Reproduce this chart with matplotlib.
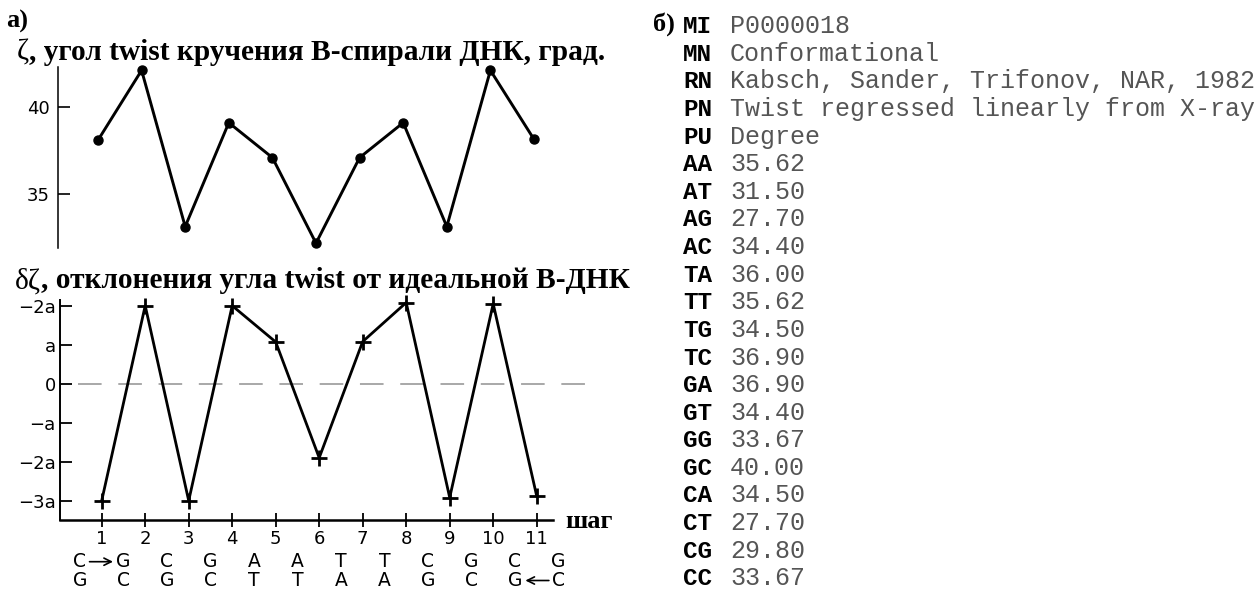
import matplotlib
matplotlib.use("Agg")
import matplotlib.pyplot as plt

# ---- data -------------------------------------------------------------
steps = list(range(1, 12))
twist_deg = [38.1, 42.1, 33.15, 39.1, 37.1, 32.2, 37.1, 39.1, 33.15, 42.1, 38.15]
twist_dev = [-3.0, 2.0, -3.0, 2.0, 1.07, -1.9, 1.08, 2.08, -2.92, 2.05, -2.88]

deg_ticks = [35, 40]
dev_ticks = [2, 1, 0, -1, -2, -3]
dev_tick_labels = ["\u22122a", "a", "0", "\u2212a", "\u22122a", "\u22123a"]

strand_top = list("CGCGAATTCGCG")
strand_bottom = list("GCGCTTAAGCGC")

table_codes = ["MI", "MN", "RN", "PN", "PU",
               "AA", "AT", "AG", "AC", "TA", "TT", "TG", "TC",
               "GA", "GT", "GG", "GC", "CA", "CT", "CG", "CC"]
table_values = ["P0000018", "Conformational",
                "Kabsch, Sander, Trifonov, NAR, 1982",
                "Twist regressed linearly from X-ray", "Degree",
                "35.62", "31.50", "27.70", "34.40", "36.00", "35.62",
                "34.50", "36.90", "36.90", "34.40", "33.67", "40.00",
                "34.50", "27.70", "29.80", "33.67"]

# ---- figure / layout helpers (pixel units) ----------------------------
W, H, DPI = 1258, 591, 100
plt.rcParams["font.family"] = ["DejaVu Sans"]
plt.rcParams["lines.scale_dashes"] = False
fig = plt.figure(figsize=(W / DPI, H / DPI), dpi=DPI)
fig.patch.set_facecolor("white")
renderer = fig.canvas.get_renderer()
SERIF = ["Liberation Serif", "DejaVu Serif"]
MONO = ["Liberation Mono", "DejaVu Sans Mono"]


def box(left, top, right, bottom):
    return [left / W, 1 - bottom / H, (right - left) / W, (bottom - top) / H]


def span(p0, v0, p1, v1, a, b):
    k = (v1 - v0) / (p1 - p0)
    return v0 + (a - p0) * k, v0 + (b - p0) * k


def fx(px):
    return px / W


def fy(py):
    return 1 - py / H


def text_run(parts, x0, y0, target_w, size0=18):
    """Write consecutive serif runs on one baseline, scaled to a given width."""
    def place(size):
        arts, x = [], x0
        for s, w in parts:
            t = fig.text(fx(x), fy(y0), s, fontsize=size, fontweight=w,
                         family=SERIF, ha="left", va="baseline")
            x += t.get_window_extent(renderer).width
            arts.append(t)
        return arts, x - x0
    arts, width = place(size0)
    for a in arts:
        a.remove()
    place(size0 * target_w / width)


# ---- panel a: twist angle ---------------------------------------------
top_box = (58, 66.7, 560, 248)
ax1 = fig.add_axes(box(*top_box))
ax1.set_xlim(*span(98, 1, 534, 11, top_box[0], top_box[2]))
ax1.set_ylim(*span(194.3, 35, 107.0, 40, top_box[3], top_box[1]))
ax1.plot(steps, twist_deg, color="black", lw=2.1, marker="o", ms=6.5,
         mfc="black", mec="black", clip_on=False)
for s in ("top", "right", "bottom"):
    ax1.spines[s].set_visible(False)
ax1.spines["left"].set_linewidth(1.1)
ax1.set_xticks([])
ax1.set_yticks(deg_ticks)
ax1.set_yticklabels([str(t) for t in deg_ticks])
ax1.tick_params(axis="y", direction="in", length=8.5, width=1.2,
                pad=6, labelsize=13)

# ---- panel a: deviation of twist ---------------------------------------
dev_box = (60, 300, 553, 520)
ax2 = fig.add_axes(box(*dev_box))
ax2.set_xlim(*span(101.7, 1, 536.7, 11, dev_box[0], dev_box[2]))
ax2.set_ylim(*span(500.7, -3, 305.7, 2, dev_box[3], dev_box[1]))

x_of = lambda px: span(101.7, 1, 536.7, 11, px, px)[0]
ax2.plot([x_of(78), x_of(591)], [0, 0], color="#9a9a9a", lw=1.2,
         dashes=(17, 12), clip_on=False, zorder=1)
ax2.plot(steps, twist_dev, color="black", lw=2.0, marker="+", ms=11,
         mew=2.0, zorder=3, clip_on=False)

for s in ("top", "right"):
    ax2.spines[s].set_visible(False)
ax2.spines["left"].set_linewidth(1.4)
ax2.spines["bottom"].set_linewidth(1.8)
ax2.set_yticks(dev_ticks)
ax2.set_yticklabels(dev_tick_labels)
ax2.tick_params(axis="y", direction="in", length=8.5, width=1.3,
                pad=3, labelsize=13)
ax2.set_xticks(steps)
ax2.set_xticklabels([str(s) for s in steps])
ax2.tick_params(axis="x", direction="inout", length=10, width=1.3,
                pad=2, labelsize=13)

# base-pair sequence under the step axis
seq_tr = ax2.get_xaxis_transform()
ax_h = dev_box[3] - dev_box[1]
row_y = [(dev_box[3] - 561.7) / ax_h, (dev_box[3] - 580.5) / ax_h]
for i, (b1, b2) in enumerate(zip(strand_top, strand_bottom)):
    ax2.text(i + 0.5, row_y[0], b1, transform=seq_tr, ha="center",
             va="center", fontsize=13.5, clip_on=False)
    ax2.text(i + 0.5, row_y[1], b2, transform=seq_tr, ha="center",
             va="center", fontsize=13.5, clip_on=False)
arrow = dict(arrowstyle="->", lw=1.2, color="black", mutation_scale=13,
             shrinkA=0, shrinkB=0)
ax2.annotate("", xy=(1.26, row_y[0]), xytext=(0.72, row_y[0]),
             xycoords=seq_tr, textcoords=seq_tr, arrowprops=arrow,
             annotation_clip=False)
ax2.annotate("", xy=(10.74, row_y[1]), xytext=(11.28, row_y[1]),
             xycoords=seq_tr, textcoords=seq_tr, arrowprops=arrow,
             annotation_clip=False)

fig.text(fx(565), fy(522), "шаг", family=SERIF, fontweight="bold",
         fontsize=19, ha="left", va="center")

# ---- panel labels and titles ------------------------------------------
fig.text(fx(6), fy(28), "а)", family=SERIF, fontweight="bold",
         fontsize=19, ha="left", va="baseline")
text_run([("ζ", "normal"), (", угол twist кручения В-спирали ДНК, град.", "bold")],
         17, 60, 588)
text_run([("δζ", "normal"), (", отклонения угла twist от идеальной В-ДНК", "bold")],
         15, 288.5, 615)

# ---- panel b: property record ------------------------------------------
fig.text(fx(653), fy(31), "б)", family=SERIF, fontweight="bold",
         fontsize=19, ha="left", va="baseline")
for i, (code, val) in enumerate(zip(table_codes, table_values)):
    yb = 33.3 + 27.6 * i
    fig.text(fx(683), fy(yb), code, family=MONO, fontweight="bold",
             fontsize=17.5, color="black", ha="left", va="baseline")
    fig.text(fx(730), fy(yb), val, family=MONO, fontsize=18,
             color="#555555", ha="left", va="baseline")

fig.savefig("out.png", dpi=DPI, facecolor="white")
